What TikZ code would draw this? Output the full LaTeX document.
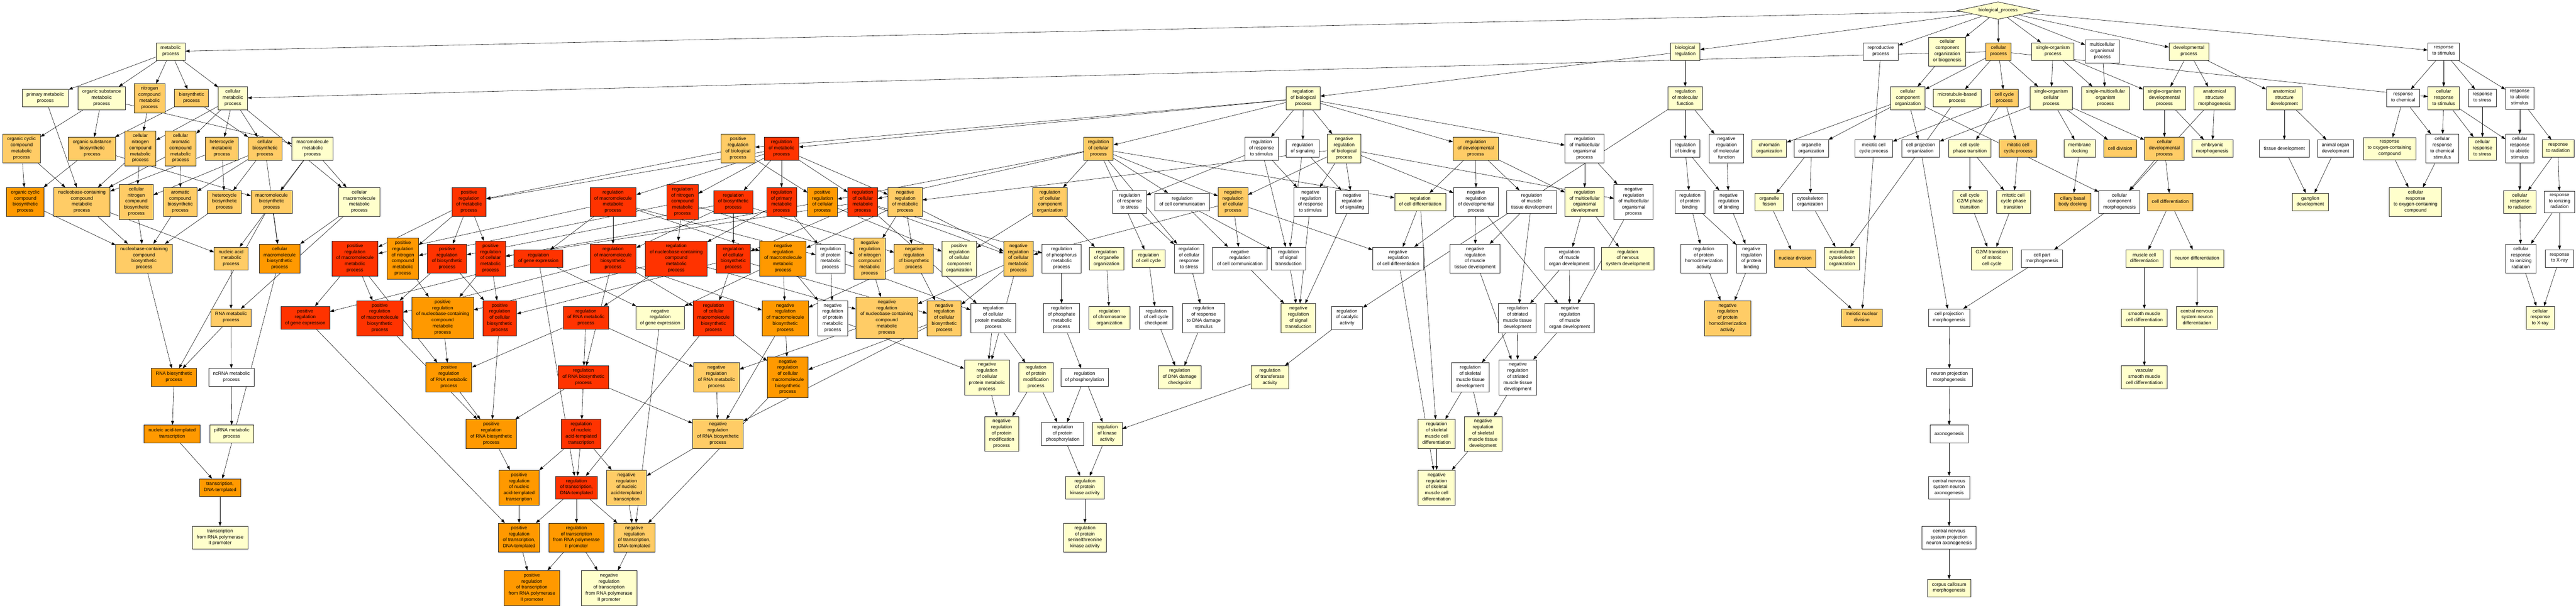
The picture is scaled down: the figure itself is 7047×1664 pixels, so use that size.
\documentclass[tikz,border=0pt]{standalone}
\usepackage{fontspec}
\setmainfont{Liberation Sans}
\usetikzlibrary{shapes.geometric,arrows.meta,backgrounds}
\definecolor{golow}{HTML}{FFFFCC}
\definecolor{gomid}{HTML}{FFCC66}
\definecolor{gohigh}{HTML}{FF9900}
\definecolor{gotop}{HTML}{FF3300}

\begin{document}
\begin{tikzpicture}[
		x=1bp,y=-1bp,
		term/.style={draw=black!85,line width=1.2bp,rectangle,align=center,inner xsep=12bp,inner ysep=7.5bp,minimum height=48bp,font=\fontsize{13bp}{16.6bp}\selectfont,execute at begin node=\strut,execute at end node=\strut},
		nosig/.style={term,fill=white},
		sigweak/.style={term,fill=golow},
		sigmid/.style={term,fill=gomid},
		sighigh/.style={term,fill=gohigh},
		sigtop/.style={term,fill=gotop},
		rootterm/.style={diamond,draw=black!85,line width=1.2bp,fill=golow,aspect=4.7,inner sep=0pt,minimum width=225bp,minimum height=48bp,font=\fontsize{13bp}{16.6bp}\selectfont},
		isa/.style={draw,-{Triangle[length=11bp,width=8bp]},line width=0.8bp}
		]
		\useasboundingbox (0,0) rectangle (7047,1664);
		\node[rootterm] (bp) at (5466,29) {biological\_process};

		\node[sigweak] (metab) at (467,141) {metabolic\\process};
		\node[sigweak] (bioreg) at (4610,141) {biological\\regulation};
		\node[nosig] (repro) at (5145,141) {reproductive\\process};
		\node[sigweak] (ccob) at (5327,141) {cellular\\component\\organization\\or biogenesis};
		\node[sigmid] (cellproc) at (5467,141) {cellular\\process};
		\node[sigweak] (sorgproc) at (5616,141) {single-organism\\process};
		\node[nosig] (multorg) at (5751,141) {multicellular\\organismal\\process};
		\node[sigweak] (devproc) at (5988,141) {developmental\\process};
		\node[nosig] (respstim) at (6685,141) {response\\to stimulus};

		\node[sigweak] (primmet) at (124,269) {primary metabolic\\process};
		\node[sigweak] (orgsubmet) at (278,269) {organic substance\\metabolic\\process};
		\node[sigmid] (nitmet) at (409,269) {nitrogen\\compound\\metabolic\\process};
		\node[sigmid] (biosyn) at (524,269) {biosynthetic\\process};
		\node[sigweak] (cellmet) at (637,269) {cellular\\metabolic\\process};
		\node[sigweak] (regbio) at (3565,269) {regulation\\of biological\\process};
		\node[sigweak] (regmf) at (4610,269) {regulation\\of molecular\\function};
		\node[sigweak] (cco) at (5219,269) {cellular\\component\\organization};
		\node[sigweak] (mtb) at (5354,269) {microtubule-based\\process};
		\node[sigmid] (ccp) at (5483,269) {cell cycle\\process};
		\node[sigweak] (socell) at (5611,269) {single-organism\\cellular\\process};
		\node[sigweak] (smop) at (5760,269) {single-multicellular\\organism\\process};
		\node[sigweak] (sodev) at (5921,269) {single-organism\\developmental\\process};
		\node[sigweak] (asm) at (6058,269) {anatomical\\structure\\morphogenesis};
		\node[sigweak] (asd) at (6249,269) {anatomical\\structure\\development};
		\node[nosig] (respchem) at (6574,269) {response\\to chemical};
		\node[sigweak] (cellrespstim) at (6685,269) {cellular\\response\\to stimulus};
		\node[nosig] (respstress) at (6791,269) {response\\to stress};
		\node[nosig] (respabio) at (6893,269) {response\\to abiotic\\stimulus};

		\node[sigmid] (orgcycmet) at (59,407) {organic cyclic\\compound\\metabolic\\process};
		\node[sigmid] (orgsubbio) at (252,407) {organic substance\\biosynthetic\\process};
		\node[sigmid] (cellnitmet) at (384,407) {cellular\\nitrogen\\compound\\metabolic\\process};
		\node[sigmid] (cellaromet) at (494,407) {cellular\\aromatic\\compound\\metabolic\\process};
		\node[sigmid] (hetmet) at (607,407) {heterocycle\\metabolic\\process};
		\node[sigmid] (cellbio) at (725,407) {cellular\\biosynthetic\\process};
		\node[sigweak] (macmet) at (855,407) {macromolecule\\metabolic\\process};
		\node[sigmid] (posregbio) at (2019,407) {positive\\regulation\\of biological\\process};
		\node[sigtop] (regmet) at (2138,407) {regulation\\of metabolic\\process};
		\node[sigmid] (regcell) at (3005,407) {regulation\\of cellular\\process};
		\node[nosig] (regrespstim) at (3451,407) {regulation\\of response\\to stimulus};
		\node[nosig] (regsig) at (3564,407) {regulation\\of signaling};
		\node[sigweak] (negregbio) at (3677,407) {negative\\regulation\\of biological\\process};
		\node[sigmid] (regdev) at (4037,407) {regulation\\of developmental\\process};
		\node[nosig] (regmulti) at (4335,407) {regulation\\of multicellular\\organismal\\process};
		\node[nosig] (regbind) at (4610,407) {regulation\\of binding};
		\node[nosig] (negregmf) at (4723,407) {negative\\regulation\\of molecular\\function};
		\node[sigweak] (chromorg) at (4840,407) {chromatin\\organization};
		\node[nosig] (orgorg) at (4955,407) {organelle\\organization};
		\node[nosig] (meioccp) at (5126,407) {meiotic cell\\cycle process};
		\node[nosig] (cporg) at (5254,407) {cell projection\\organization};
		\node[sigweak] (ccpt) at (5389,407) {cell cycle\\phase transition};
		\node[sigmid] (mitccp) at (5521,407) {mitotic cell\\cycle process};
		\node[sigweak] (memdock) at (5689,407) {membrane\\docking};
		\node[sigmid] (celldiv) at (5800,407) {cell division};
		\node[sigmid] (celldev) at (5921,407) {cellular\\developmental\\process};
		\node[sigweak] (embmorph) at (6052,407) {embryonic\\morphogenesis};
		\node[nosig] (tissdev) at (6249,407) {tissue development};
		\node[nosig] (organdev) at (6389,407) {animal organ\\development};
		\node[sigweak] (respoxy) at (6537,407) {response\\to oxygen-containing\\compound};
		\node[nosig] (crchem) at (6681,407) {cellular\\response\\to chemical\\stimulus};
		\node[sigweak] (crstress) at (6791,407) {cellular\\response\\to stress};
		\node[nosig] (crabio) at (6893,407) {cellular\\response\\to abiotic\\stimulus};
		\node[sigweak] (resprad) at (6998,407) {response\\to radiation};

		\node[sighigh] (orgcycbio) at (69,553) {organic cyclic\\compound\\biosynthetic\\process};
		\node[sigmid] (nbcmet) at (224,553) {nucleobase-containing\\compound\\metabolic\\process};
		\node[sigmid] (cellnitbio) at (373,553) {cellular\\nitrogen\\compound\\biosynthetic\\process};
		\node[sigmid] (arobio) at (493,553) {aromatic\\compound\\biosynthetic\\process};
		\node[sigmid] (hetbio) at (614,553) {heterocycle\\biosynthetic\\process};
		\node[sigmid] (macbio) at (743,553) {macromolecule\\biosynthetic\\process};
		\node[sigweak] (cellmacmet) at (983,553) {cellular\\macromolecule\\metabolic\\process};
		\node[sigtop] (posregmet) at (1283,553) {positive\\regulation\\of metabolic\\process};
		\node[sigtop] (regmacmet) at (1677,553) {regulation\\of macromolecule\\metabolic\\process};
		\node[sigtop] (regnitmet) at (1867,553) {regulation\\of nitrogen\\compound\\metabolic\\process};
		\node[sigtop] (regbiosyn) at (2006,553) {regulation\\of biosynthetic\\process};
		\node[sigtop] (regprimmet) at (2138,553) {regulation\\of primary\\metabolic\\process};
		\node[sighigh] (posregcell) at (2250,553) {positive\\regulation\\of cellular\\process};
		\node[sigtop] (regcellmet) at (2360,553) {regulation\\of cellular\\metabolic\\process};
		\node[sigmid] (negregmet) at (2476,553) {negative\\regulation\\of metabolic\\process};
		\node[sigmid] (regcco) at (2872,553) {regulation\\of cellular\\component\\organization};
		\node[nosig] (regrespstress) at (3090,553) {regulation\\of response\\to stress};
		\node[nosig] (regcellcomm) at (3234,553) {regulation\\of cell communication};
		\node[sigmid] (negregcell) at (3373,553) {negative\\regulation\\of cellular\\process};
		\node[nosig] (negregrespstim) at (3585,553) {negative\\regulation\\of response\\to stimulus};
		\node[nosig] (negregsig) at (3699,553) {negative\\regulation\\of signaling};
		\node[sigweak] (regcelldiff) at (3885,553) {regulation\\of cell differentiation};
		\node[nosig] (negregdev) at (4038,553) {negative\\regulation\\of developmental\\process};
		\node[nosig] (regmusctiss) at (4190,553) {regulation\\of muscle\\tissue development};
		\node[sigweak] (regmultidev) at (4335,553) {regulation\\of multicellular\\organismal\\development};
		\node[nosig] (negregmulti) at (4469,553) {negative\\regulation\\of multicellular\\organismal\\process};
		\node[nosig] (regprotbind) at (4623,553) {regulation\\of protein\\binding};
		\node[nosig] (negregbind) at (4729,553) {negative\\regulation\\of binding};
		\node[sigweak] (orgfiss) at (4840,553) {organelle\\fission};
		\node[nosig] (cytorg) at (4952,553) {cytoskeleton\\organization};
		\node[sigweak] (g2mpt) at (5389,553) {cell cycle\\G2/M phase\\transition};
		\node[sigweak] (mitcpt) at (5508,553) {mitotic cell\\cycle phase\\transition};
		\node[sigmid] (cbbdock) at (5670,553) {ciliary basal\\body docking};
		\node[nosig] (ccmorph) at (5798,553) {cellular\\component\\morphogenesis};
		\node[sigmid] (celldiff) at (5937,553) {cell differentiation};
		\node[sigweak] (gangdev) at (6320,553) {ganglion\\development};
		\node[sigweak] (croxy) at (6608,553) {cellular\\response\\to oxygen-containing\\compound};
		\node[sigweak] (crrad) at (6893,553) {cellular\\response\\to radiation};
		\node[nosig] (respion) at (7002,553) {response\\to ionizing\\radiation};

		\node[sigmid] (nbcbio) at (394,708) {nucleobase-containing\\compound\\biosynthetic\\process};
		\node[sigmid] (nucmet) at (632,708) {nucleic acid\\metabolic\\process};
		\node[sighigh] (cellmacbio) at (765,708) {cellular\\macromolecule\\biosynthetic\\process};
		\node[sigtop] (posregmacmet) at (971,708) {positive\\regulation\\of macromolecule\\metabolic\\process};
		\node[sighigh] (posregnitmet) at (1102,708) {positive\\regulation\\of nitrogen\\compound\\metabolic\\process};
		\node[sigtop] (posregbiosyn) at (1223,708) {positive\\regulation\\of biosynthetic\\process};
		\node[sigtop] (posregcellmet) at (1342,708) {positive\\regulation\\of cellular\\metabolic\\process};
		\node[sigtop] (reggene) at (1473,708) {regulation\\of gene expression};
		\node[sigtop] (regmacbio) at (1677,708) {regulation\\of macromolecule\\biosynthetic\\process};
		\node[sigtop] (regnbcmet) at (1850,708) {regulation\\of nucleobase-containing\\compound\\metabolic\\process};
		\node[sigtop] (regcellbio) at (2006,708) {regulation\\of cellular\\biosynthetic\\process};
		\node[sighigh] (negregmacmet) at (2142,708) {negative\\regulation\\of macromolecule\\metabolic\\process};
		\node[nosig] (regprotmet) at (2272,708) {regulation\\of protein\\metabolic\\process};
		\node[sigmid] (negregnitmet) at (2379,708) {negative\\regulation\\of nitrogen\\compound\\metabolic\\process};
		\node[sigmid] (negregbiosyn) at (2500,708) {negative\\regulation\\of biosynthetic\\process};
		\node[sigweak] (posregcco) at (2624,708) {positive\\regulation\\of cellular\\component\\organization};
		\node[sigmid] (negregcellmet) at (2786,708) {negative\\regulation\\of cellular\\metabolic\\process};
		\node[nosig] (regphosmet) at (2904,708) {regulation\\of phosphorus\\metabolic\\process};
		\node[sigweak] (regorgorg) at (3027,708) {regulation\\of organelle\\organization};
		\node[sigweak] (regcc) at (3142,708) {regulation\\of cell cycle};
		\node[nosig] (regcrstress) at (3253,708) {regulation\\of cellular\\response\\to stress};
		\node[nosig] (negregcellcomm) at (3392,708) {negative\\regulation\\of cell communication};
		\node[nosig] (regsigtrans) at (3525,708) {regulation\\of signal\\transduction};
		\node[nosig] (negregcelldiff) at (3825,708) {negative\\regulation\\of cell differentiation};
		\node[nosig] (negregmusctiss) at (4035,708) {negative\\regulation\\of muscle\\tissue development};
		\node[nosig] (regmuscorg) at (4293,708) {regulation\\of muscle\\organ development};
		\node[sigweak] (regnervdev) at (4453,708) {regulation\\of nervous\\system development};
		\node[nosig] (regprothomo) at (4661,708) {regulation\\of protein\\homodimerization\\activity};
		\node[nosig] (negregprotbind) at (4791,708) {negative\\regulation\\of protein\\binding};
		\node[sigmid] (nucdiv) at (4911,708) {nuclear division};
		\node[sigweak] (mtcytorg) at (5039,708) {microtubule\\cytoskeleton\\organization};
		\node[sigweak] (g2mmit) at (5449,708) {G2/M transition\\of mitotic\\cell cycle};
		\node[nosig] (cpmorph) at (5586,708) {cell part\\morphogenesis};
		\node[sigweak] (muscdiff) at (5866,708) {muscle cell\\differentiation};
		\node[sigweak] (neurdiff) at (6010,708) {neuron differentiation};
		\node[nosig] (crion) at (6896,708) {cellular\\response\\to ionizing\\radiation};
		\node[nosig] (respxray) at (7002,708) {response\\to X-ray};

		\node[sigmid] (RNAmet) at (632,870) {RNA metabolic\\process};
		\node[sigtop] (posreggene) at (835,870) {positive\\regulation\\of gene expression};
		\node[sigtop] (posregmacbio) at (1039,871) {positive\\regulation\\of macromolecule\\biosynthetic\\process};
		\node[sighigh] (posregnbcmet) at (1211,870) {positive\\regulation\\of nucleobase-containing\\compound\\metabolic\\process};
		\node[sigtop] (posregcellbio) at (1367,871) {positive\\regulation\\of cellular\\biosynthetic\\process};
		\node[sigtop] (regRNAmet) at (1603,870) {regulation\\of RNA metabolic\\process};
		\node[sigweak] (negreggene) at (1806,870) {negative\\regulation\\of gene expression};
		\node[sigtop] (regcellmacbio) at (1952,871) {regulation\\of cellular\\macromolecule\\biosynthetic\\process};
		\node[sighigh] (negregmacbio) at (2148,871) {negative\\regulation\\of macromolecule\\biosynthetic\\process};
		\node[nosig] (negregprotmet) at (2278,871) {negative\\regulation\\of protein\\metabolic\\process};
		\node[sigmid] (negregnbcmet) at (2426,870) {negative\\regulation\\of nucleobase-containing\\compound\\metabolic\\process};
		\node[sigmid] (negregcellbio) at (2583,871) {negative\\regulation\\of cellular\\biosynthetic\\process};
		\node[nosig] (regcellprotmet) at (2717,871) {regulation\\of cellular\\protein metabolic\\process};
		\node[nosig] (regphosphmet) at (2904,871) {regulation\\of phosphate\\metabolic\\process};
		\node[sigweak] (regchrom) at (3035,870) {regulation\\of chromosome\\organization};
		\node[nosig] (regccc) at (3163,870) {regulation\\of cell cycle\\checkpoint};
		\node[nosig] (regrespdna) at (3293,871) {regulation\\of response\\to DNA damage\\stimulus};
		\node[sigweak] (negregsigtrans) at (3552,871) {negative\\regulation\\of signal\\transduction};
		\node[nosig] (regcatal) at (3685,870) {regulation\\of catalytic\\activity};
		\node[nosig] (regstriat) at (4151,871) {regulation\\of striated\\muscle tissue\\development};
		\node[nosig] (negregmuscorg) at (4294,871) {negative\\regulation\\of muscle\\organ development};
		\node[sigmid] (negregprothomo) at (4726,871) {negative\\regulation\\of protein\\homodimerization\\activity};
		\node[sigmid] (meionuc) at (5093,870) {meiotic nuclear\\division};
		\node[nosig] (cprojmorph) at (5332,870) {cell projection\\morphogenesis};
		\node[sigweak] (smoothdiff) at (5866,870) {smooth muscle\\cell differentiation};
		\node[sigweak] (cnsneurdiff) at (6010,870) {central nervous\\system neuron\\differentiation};
		\node[sigweak] (crxray) at (6949,870) {cellular\\response\\to X-ray};

		\node[sighigh] (RNAbio) at (476,1033) {RNA biosynthetic\\process};
		\node[nosig] (ncRNA) at (633,1033) {ncRNA metabolic\\process};
		\node[sighigh] (posregRNAmet) at (1228,1033) {positive\\regulation\\of RNA metabolic\\process};
		\node[sigtop] (regRNAbio) at (1596,1033) {regulation\\of RNA biosynthetic\\process};
		\node[sigmid] (negregRNAmet) at (1960,1033) {negative\\regulation\\of RNA metabolic\\process};
		\node[sighigh] (negregcellmacbio) at (2155,1033) {negative\\regulation\\of cellular\\macromolecule\\biosynthetic\\process};
		\node[sigweak] (negregcellprotmet) at (2700,1033) {negative\\regulation\\of cellular\\protein metabolic\\process};
		\node[sigweak] (regprotmod) at (2834,1033) {regulation\\of protein\\modification\\process};
		\node[nosig] (regphosph) at (2967,1033) {regulation\\of phosphorylation};
		\node[sigweak] (regdnacheck) at (3227,1033) {regulation\\of DNA damage\\checkpoint};
		\node[sigweak] (regtransf) at (3474,1033) {regulation\\of transferase\\activity};
		\node[nosig] (regskelt) at (4022,1033) {regulation\\of skeletal\\muscle tissue\\development};
		\node[nosig] (negregstriat) at (4152,1033) {negative\\regulation\\of striated\\muscle tissue\\development};
		\node[nosig] (neurprojmorph) at (5333,1033) {neuron projection\\morphogenesis};
		\node[sigweak] (vascdiff) at (5866,1033) {vascular\\smooth muscle\\cell differentiation};

		\node[sighigh] (nattrans) at (471,1188) {nucleic acid-templated\\transcription};
		\node[sigweak] (piRNA) at (634,1188) {piRNA metabolic\\process};
		\node[sighigh] (posregRNAbio) at (1344,1188) {positive\\regulation\\of RNA biosynthetic\\process};
		\node[sigtop] (regnattrans) at (1590,1188) {regulation\\of nucleic\\acid-templated\\transcription};
		\node[sigmid] (negregRNAbio) at (1964,1188) {negative\\regulation\\of RNA biosynthetic\\process};
		\node[sigweak] (negregprotmod) at (2740,1188) {negative\\regulation\\of protein\\modification\\process};
		\node[nosig] (regprotphos) at (2907,1188) {regulation\\of protein\\phosphorylation};
		\node[sigweak] (regkinase) at (3029,1188) {regulation\\of kinase\\activity};
		\node[sigweak] (regskelcell) at (3930,1188) {regulation\\of skeletal\\muscle cell\\differentiation};
		\node[sigweak] (negregskelt) at (4057,1188) {negative\\regulation\\of skeletal\\muscle tissue\\development};
		\node[nosig] (axono) at (5332,1188) {axonogenesis};

		\node[sighigh] (transdna) at (602,1335) {transcription,\\DNA-templated};
		\node[sighigh] (posregnattrans) at (1420,1335) {positive\\regulation\\of nucleic\\acid-templated\\transcription};
		\node[sigtop] (regtrans) at (1577,1335) {regulation\\of transcription,\\DNA-templated};
		\node[sigmid] (negregnattrans) at (1714,1335) {negative\\regulation\\of nucleic\\acid-templated\\transcription};
		\node[sigweak] (regprotkin) at (2968,1335) {regulation\\of protein\\kinase activity};
		\node[sigweak] (negregskelcell) at (3930,1335) {negative\\regulation\\of skeletal\\muscle cell\\differentiation};
		\node[nosig] (cnsaxon) at (5332,1335) {central nervous\\system neuron\\axonogenesis};

		\node[sigweak] (transpol) at (602,1472) {transcription\\from RNA polymerase\\II promoter};
		\node[sighigh] (posregtrans) at (1420,1472) {positive\\regulation\\of transcription,\\DNA-templated};
		\node[sighigh] (regtranspol) at (1577,1472) {regulation\\of transcription\\from RNA polymerase\\II promoter};
		\node[sigmid] (negregtrans) at (1735,1472) {negative\\regulation\\of transcription,\\DNA-templated};
		\node[sigweak] (regserthr) at (2968,1472) {regulation\\of protein\\serine/threonine\\kinase activity};
		\node[nosig] (cnsproj) at (5332,1472) {central nervous\\system projection\\neuron axonogenesis};

		\node[sighigh] (posregtranspol) at (1455,1610) {positive\\regulation\\of transcription\\from RNA polymerase\\II promoter};
		\node[sigweak] (negregtranspol) at (1666,1610) {negative\\regulation\\of transcription\\from RNA polymerase\\II promoter};
		\node[sigweak] (corpus) at (5332,1610) {corpus callosum\\morphogenesis};

		\begin{scope}[on background layer]
		\fill[white] (0,0) rectangle (7047,1664);
		\foreach \a/\b in {bp/metab,bp/bioreg,bp/repro,bp/ccob,bp/cellproc,bp/sorgproc,bp/multorg,bp/devproc,bp/respstim,
			metab/primmet,metab/orgsubmet,metab/nitmet,metab/biosyn,metab/cellmet,bioreg/regbio,bioreg/regmf,
			repro/meioccp,ccob/cco,cellproc/cellmet,cellproc/cco,cellproc/mtb,cellproc/ccp,cellproc/socell,cellproc/cellrespstim,
			sorgproc/socell,sorgproc/smop,sorgproc/sodev,multorg/smop,devproc/sodev,devproc/asm,devproc/asd,
			respstim/respchem,respstim/cellrespstim,respstim/respstress,respstim/respabio,
			primmet/nbcmet,orgsubmet/orgcycmet,orgsubmet/orgsubbio,orgsubmet/macmet,nitmet/cellnitmet,biosyn/orgsubbio,biosyn/cellbio,
			cellmet/cellnitmet,cellmet/cellaromet,cellmet/hetmet,cellmet/cellbio,cellmet/cellmacmet,
			regbio/posregbio,regbio/regmet,regbio/regcell,regbio/regrespstim,regbio/regsig,regbio/negregbio,regbio/regdev,regbio/regmulti,
			regmf/regbind,regmf/negregmf,regmf/regcatal,cco/chromorg,cco/orgorg,cco/cporg,cco/ccmorph,mtb/mtcytorg,
			ccp/meioccp,ccp/ccpt,ccp/mitccp,socell/cporg,socell/memdock,socell/celldiv,socell/celldev,
			sodev/celldev,sodev/embmorph,asm/embmorph,asm/ccmorph,asd/tissdev,asd/organdev,
			respchem/respoxy,respchem/crchem,cellrespstim/crchem,cellrespstim/crstress,cellrespstim/crabio,
			respstress/crstress,respabio/crabio,respabio/resprad,
			orgcycmet/orgcycbio,orgcycmet/nbcmet,orgsubbio/orgcycbio,orgsubbio/macbio,cellnitmet/nbcmet,cellnitmet/cellnitbio,
			cellaromet/nbcmet,cellaromet/arobio,hetmet/nbcmet,hetmet/hetbio,
			cellbio/cellnitbio,cellbio/arobio,cellbio/hetbio,cellbio/cellmacbio,macmet/macbio,macmet/cellmacmet,macmet/nucmet,
			posregbio/posregmet,posregbio/posregcell,
			regmet/posregmet,regmet/regmacmet,regmet/regnitmet,regmet/regbiosyn,regmet/regprimmet,regmet/regcellmet,regmet/negregmet,
			regcell/regcellmet,regcell/posregcell,regcell/regcco,regcell/regcc,regcell/regcrstress,regcell/regcellcomm,regcell/negregcell,regcell/regcelldiff,
			regrespstim/regrespstress,regrespstim/regsigtrans,regrespstim/negregrespstim,regsig/regsigtrans,regsig/negregsig,
			negregbio/negregmet,negregbio/negregcell,negregbio/negregrespstim,negregbio/negregsig,negregbio/negregdev,negregbio/negregmulti,
			regdev/regcelldiff,regdev/negregdev,regdev/regmusctiss,regdev/regmultidev,regmulti/regmultidev,regmulti/negregmulti,
			regbind/regprotbind,regbind/negregbind,negregmf/negregbind,orgorg/orgfiss,orgorg/cytorg,
			ccpt/g2mpt,ccpt/mitcpt,mitccp/mitcpt,memdock/cbbdock,celldev/ccmorph,celldev/celldiff,
			tissdev/gangdev,organdev/gangdev,respoxy/croxy,crchem/croxy,crabio/crrad,resprad/crrad,resprad/respion,
			orgcycbio/nbcbio,nbcmet/nbcbio,nbcmet/nucmet,cellnitbio/nbcbio,arobio/nbcbio,hetbio/nbcbio,
			macbio/cellmacbio,macbio/RNAbio,cellmacmet/cellmacbio,cellmacmet/RNAmet,
			posregmet/posregmacmet,posregmet/posregnitmet,posregmet/posregbiosyn,posregmet/posregcellmet,
			regmacmet/posregmacmet,regmacmet/reggene,regmacmet/regmacbio,regmacmet/negregmacmet,regmacmet/regprotmet,
			regnitmet/posregnitmet,regnitmet/regnbcmet,regnitmet/negregnitmet,
			regbiosyn/regcellbio,regbiosyn/regmacbio,regbiosyn/posregbiosyn,regbiosyn/negregbiosyn,
			regprimmet/regnbcmet,regprimmet/regprotmet,posregcell/posregcellmet,posregcell/posregcco,
			regcellmet/regcellbio,regcellmet/posregcellmet,regcellmet/negregcellmet,regcellmet/regphosmet,regcellmet/regcellprotmet,
			negregmet/negregnitmet,negregmet/negregbiosyn,negregmet/negregcellmet,negregmet/negregmacmet,
			regcco/regorgorg,regcco/posregcco,regrespstress/regcrstress,regcellcomm/negregcellcomm,regcellcomm/regsigtrans,
			negregcell/negregcellcomm,negregcell/negregcellmet,negregcell/negregcelldiff,
			negregrespstim/negregsigtrans,negregsig/negregsigtrans,regcelldiff/negregcelldiff,regcelldiff/regskelcell,
			negregdev/negregcelldiff,negregdev/negregmusctiss,negregdev/negregmuscorg,regmusctiss/negregmusctiss,regmusctiss/regstriat,
			regmultidev/regmuscorg,regmultidev/regnervdev,negregmulti/negregmuscorg,
			regprotbind/regprothomo,regprotbind/negregprotbind,negregbind/negregprotbind,
			orgfiss/nucdiv,cytorg/mtcytorg,g2mpt/g2mmit,mitcpt/g2mmit,ccmorph/cpmorph,
			celldiff/muscdiff,celldiff/neurdiff,crrad/crion,respion/crion,respion/respxray,
			nbcbio/RNAbio,nucmet/RNAmet,cellmacbio/transdna,
			posregmacmet/posreggene,posregmacmet/posregmacbio,posregmacmet/posregRNAmet,posregnitmet/posregnbcmet,
			posregbiosyn/posregmacbio,posregbiosyn/posregcellbio,posregcellmet/posregnbcmet,posregcellmet/posregcellbio,
			reggene/posreggene,reggene/negreggene,reggene/regtrans,
			regmacbio/posregmacbio,regmacbio/regcellmacbio,regmacbio/negregmacbio,regmacbio/regRNAbio,
			regnbcmet/regRNAmet,regnbcmet/posregnbcmet,regnbcmet/negregnbcmet,
			regcellbio/regcellmacbio,regcellbio/posregcellbio,regcellbio/negregcellbio,
			negregmacmet/negreggene,negregmacmet/negregmacbio,negregmacmet/negregprotmet,
			regprotmet/negregprotmet,regprotmet/regcellprotmet,negregnitmet/negregnbcmet,
			negregbiosyn/negregcellbio,negregbiosyn/negregmacbio,
			negregcellmet/negregnbcmet,negregcellmet/negregcellbio,negregcellmet/negregcellprotmet,
			regphosmet/regphosphmet,regorgorg/regchrom,regcc/regccc,regcrstress/regrespdna,
			negregcellcomm/negregsigtrans,regsigtrans/negregsigtrans,
			negregmusctiss/negregstriat,regmuscorg/regstriat,regmuscorg/negregmuscorg,
			regprothomo/negregprothomo,negregprotbind/negregprothomo,
			nucdiv/meionuc,meioccp/meionuc,cporg/cprojmorph,cpmorph/cprojmorph,
			muscdiff/smoothdiff,neurdiff/cnsneurdiff,crion/crxray,respxray/crxray,regcatal/regtransf,
			RNAmet/RNAbio,RNAmet/ncRNA,posreggene/posregtrans,posregmacbio/posregRNAbio,posregnbcmet/posregRNAmet,posregcellbio/posregRNAbio,
			regRNAmet/posregRNAmet,regRNAmet/regRNAbio,regRNAmet/negregRNAmet,negreggene/negregtrans,
			regcellmacbio/regtrans,regcellmacbio/negregcellmacbio,negregmacbio/negregcellmacbio,negregmacbio/negregRNAbio,
			negregprotmet/negregcellprotmet,negregnbcmet/negregRNAmet,negregcellbio/negregcellmacbio,negregcellbio/negregRNAbio,
			regcellprotmet/negregcellprotmet,regcellprotmet/regprotmod,regphosphmet/regphosph,
			regccc/regdnacheck,regrespdna/regdnacheck,regstriat/regskelt,regstriat/negregstriat,negregmuscorg/negregstriat,
			cprojmorph/neurprojmorph,smoothdiff/vascdiff,
			RNAbio/nattrans,ncRNA/piRNA,posregRNAmet/posregRNAbio,
			regRNAbio/posregRNAbio,regRNAbio/regnattrans,regRNAbio/negregRNAbio,negregRNAmet/negregRNAbio,negregcellmacbio/negregtrans,
			negregcellprotmet/negregprotmod,regprotmod/negregprotmod,regprotmod/regprotphos,
			regphosph/regprotphos,regphosph/regkinase,regtransf/regkinase,
			regskelt/regskelcell,regskelt/negregskelt,negregstriat/negregskelt,neurprojmorph/axono,
			nattrans/transdna,posregRNAbio/posregnattrans,
			regnattrans/posregnattrans,regnattrans/regtrans,regnattrans/negregnattrans,negregRNAbio/negregnattrans,
			regprotphos/regprotkin,regkinase/regprotkin,
			regskelcell/negregskelcell,negregskelt/negregskelcell,negregcelldiff/negregskelcell,axono/cnsaxon,
			transdna/transpol,posregnattrans/posregtrans,
			regtrans/posregtrans,regtrans/regtranspol,regtrans/negregtrans,negregnattrans/negregtrans,
			regprotkin/regserthr,cnsaxon/cnsproj,
			posregtrans/posregtranspol,regtranspol/posregtranspol,regtranspol/negregtranspol,negregtrans/negregtranspol,
			cnsproj/corpus}
			\draw[isa] (\a) -- (\b);
		\end{scope}
	\end{tikzpicture}
\end{document}
